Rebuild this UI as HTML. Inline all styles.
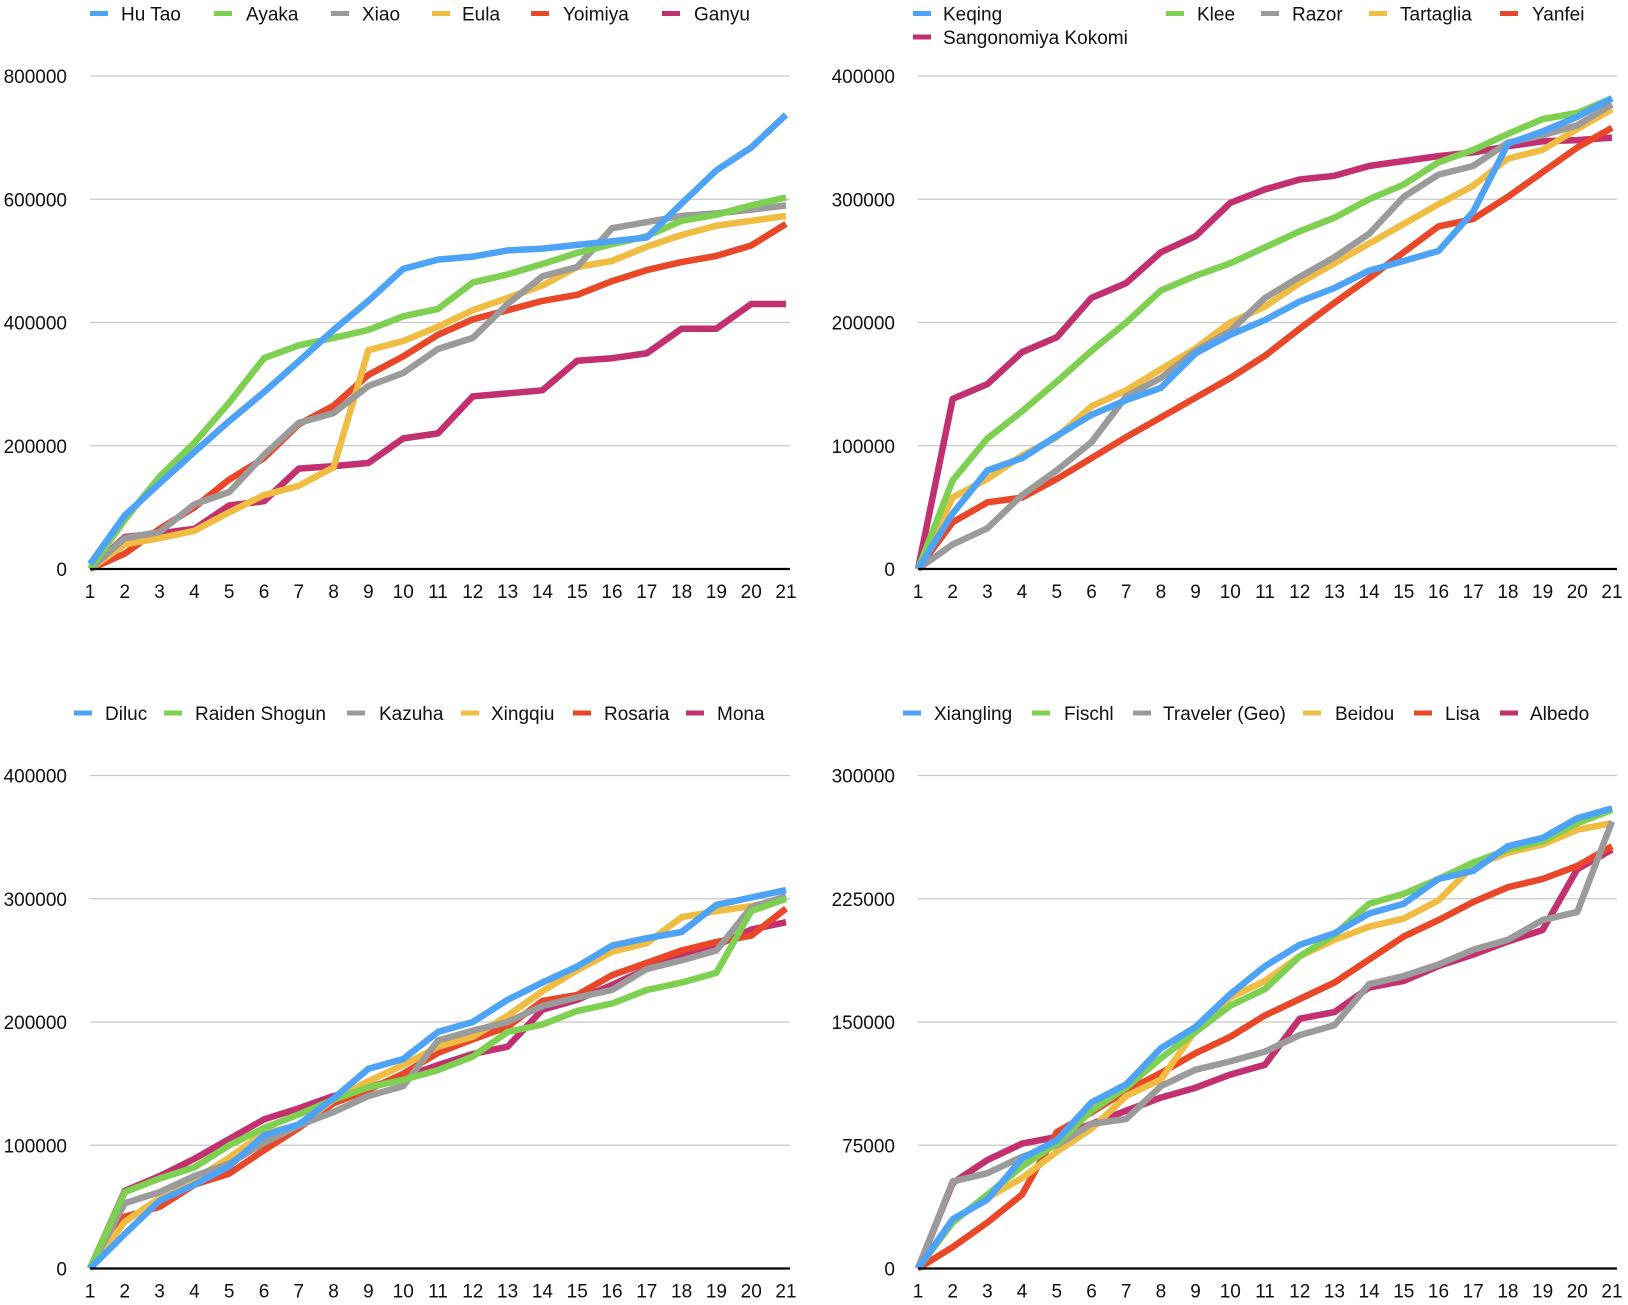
<!DOCTYPE html>
<html><head><meta charset="utf-8">
<style>
html,body{margin:0;padding:0;background:#fff;}
svg text{font-family:"Liberation Sans",Arial,sans-serif;font-size:19px;fill:#111;}
</style></head>
<body>
<svg id="root" width="1628" height="1300" viewBox="0 0 1628 1300" xmlns="http://www.w3.org/2000/svg"></svg>
<script>
const categories = [1,2,3,4,5,6,7,8,9,10,11,12,13,14,15,16,17,18,19,20,21];
const colors = ["#4DA3F7","#7ED050","#9B9B9B","#F0BC42","#EA4628","#C2306F"];

// Panel 1
const p1Names = ["Hu Tao","Ayaka","Xiao","Eula","Yoimiya","Ganyu"];
const p1Ticks = [0,200000,400000,600000,800000];
const p1HuTao = [8000,87000,139000,190000,240000,287000,337000,388000,435000,487000,502000,507000,517000,520000,526000,532000,538000,593000,647000,684000,737000];
const p1Ayaka = [0,80000,150000,205000,270000,342000,363000,375000,388000,410000,422000,465000,478000,495000,513000,527000,540000,565000,575000,590000,603000];
const p1Xiao = [0,50000,60000,105000,125000,185000,237000,253000,297000,318000,357000,375000,430000,475000,490000,553000,563000,573000,577000,583000,590000];
const p1Eula = [0,40000,50000,62000,92000,120000,135000,165000,355000,370000,393000,420000,440000,460000,490000,500000,523000,542000,557000,565000,573000];
const p1Yoimiya = [0,25000,65000,100000,145000,180000,235000,265000,315000,345000,380000,405000,420000,435000,445000,467000,485000,498000,508000,525000,560000];
const p1Ganyu = [0,52000,58000,65000,103000,110000,163000,167000,172000,212000,220000,280000,285000,290000,338000,342000,350000,390000,390000,430000,430000];

// Panel 2
const p2Names = ["Keqing","Klee","Razor","Tartaglia","Yanfei","Sangonomiya Kokomi"];
const p2Ticks = [0,100000,200000,300000,400000];
const p2Keqing = [0,45000,80000,90000,108000,125000,137000,147000,175000,190000,202000,217000,228000,242000,250000,258000,290000,345000,355000,367000,382000];
const p2Klee = [0,72000,106000,128000,152000,177000,200000,226000,238000,248000,261000,274000,285000,300000,312000,330000,340000,353000,365000,370000,382000];
const p2Razor = [0,20000,33000,60000,80000,103000,140000,155000,177000,193000,220000,237000,253000,272000,302000,320000,327000,346000,352000,360000,377000];
const p2Tartaglia = [0,58000,73000,92000,107000,132000,145000,162000,179000,200000,213000,232000,248000,264000,280000,296000,311000,333000,340000,357000,373000];
const p2Yanfei = [0,38000,54000,58000,73000,90000,107000,123000,139000,155000,173000,195000,216000,236000,257000,278000,284000,302000,322000,342000,358000];
const p2Kokomi = [0,138000,150000,176000,188000,220000,232000,257000,270000,297000,308000,316000,319000,327000,331000,335000,338000,343000,347000,348000,350000];

// Panel 3
const p3Names = ["Diluc","Raiden Shogun","Kazuha","Xingqiu","Rosaria","Mona"];
const p3Ticks = [0,100000,200000,300000,400000];
const p3Diluc = [0,28000,55000,68000,83000,108000,117000,138000,162000,170000,192000,200000,218000,232000,245000,262000,268000,273000,295000,301000,307000];
const p3Raiden = [0,62000,73000,82000,100000,114000,125000,137000,147000,153000,161000,172000,192000,198000,209000,215000,226000,232000,240000,290000,300000];
const p3Kazuha = [0,53000,62000,75000,85000,102000,116000,127000,140000,148000,185000,193000,200000,213000,220000,226000,243000,250000,258000,293000,302000];
const p3Xingqiu = [0,38000,57000,72000,90000,110000,116000,137000,152000,165000,180000,188000,205000,225000,242000,257000,264000,285000,290000,294000,300000];
const p3Rosaria = [0,42000,50000,68000,77000,96000,114000,134000,145000,158000,175000,186000,196000,217000,222000,238000,248000,258000,265000,270000,292000];
const p3Mona = [0,63000,75000,89000,105000,121000,130000,140000,147000,155000,165000,174000,180000,210000,218000,230000,243000,253000,262000,275000,281000];

// Panel 4
const p4Names = ["Xiangling","Fischl","Traveler (Geo)","Beidou","Lisa","Albedo"];
const p4Ticks = [0,75000,150000,225000,300000];
const p4Xiangling = [0,30000,42000,67000,78000,101000,112000,134000,147000,167000,184000,197000,204000,216000,222000,237000,242000,257000,262000,274000,280000];
const p4Fischl = [0,28000,45000,62000,76000,96000,110000,128000,144000,160000,170000,190000,203000,222000,228000,237000,247000,255000,260000,271000,279000];
const p4Traveler = [0,53000,58000,68000,75000,88000,91000,111000,121000,126000,132000,142000,148000,173000,178000,185000,194000,200000,212000,217000,272000];
const p4Beidou = [0,29000,43000,55000,71000,85000,105000,115000,145000,165000,175000,190000,200000,208000,213000,224000,245000,253000,258000,267000,271000];
const p4Lisa = [0,13000,28000,45000,83000,95000,108000,119000,131000,141000,154000,164000,174000,188000,202000,212000,223000,232000,237000,245000,257000];
const p4Albedo = [0,52000,66000,76000,80000,88000,96000,104000,110000,118000,124000,152000,156000,171000,175000,184000,191000,199000,206000,243000,255000];

const NS = "http://www.w3.org/2000/svg";
const root = document.getElementById("root");
function mk(tag, attrs, parent){ const e=document.createElementNS(NS,tag); for(const k in attrs) e.setAttribute(k,attrs[k]); parent.appendChild(e); return e; }

const panels = [
  {id:"chart-1", names:p1Names, ticks:p1Ticks, series:[p1HuTao,p1Ayaka,p1Xiao,p1Eula,p1Yoimiya,p1Ganyu],
   x0:90, x1:786, gx1:790, y0:569, y1:76, labelRight:67,
   legend:[[90,121,13.5],[214,246,13.5],[331,362,13.5],[432,462,13.5],[531,563,13.5],[662,694,13.5]]},
  {id:"chart-2", names:p2Names, ticks:p2Ticks, series:[p2Keqing,p2Klee,p2Razor,p2Tartaglia,p2Yanfei,p2Kokomi],
   x0:918, x1:1612, gx1:1617, y0:569, y1:76, labelRight:895,
   legend:[[913,943,13.5],[1166,1197,13.5],[1261,1292,13.5],[1369,1400,13.5],[1500,1532,13.5],[913,943,37]]},
  {id:"chart-3", names:p3Names, ticks:p3Ticks, series:[p3Diluc,p3Raiden,p3Kazuha,p3Xingqiu,p3Rosaria,p3Mona],
   x0:90, x1:786, gx1:790, y0:1268.5, y1:775.5, labelRight:67,
   legend:[[74,105,713],[164,195,713],[347,379,713],[461,491,713],[573,604,713],[686,717,713]]},
  {id:"chart-4", names:p4Names, ticks:p4Ticks, series:[p4Xiangling,p4Fischl,p4Traveler,p4Beidou,p4Lisa,p4Albedo],
   x0:918, x1:1612, gx1:1617, y0:1268.5, y1:775.5, labelRight:895,
   legend:[[903,934,713],[1032,1064,713],[1133,1163,713],[1303,1335,713],[1414,1445,713],[1500,1530,713]]}
];

panels.forEach(p=>{
  const g = mk("g",{},root);
  
  
  const maxV = p.ticks[p.ticks.length-1];
  const xs = i => p.x0 + (p.x1-p.x0)*(categories[i]-categories[0])/(categories[categories.length-1]-categories[0]);
  const ys = v => p.y0 - (p.y0-p.y1)*v/maxV;
  p.ticks.forEach(t=>{
    if(t>0){
      const l = mk("line",{x1:p.x0,x2:p.gx1,y1:ys(t),y2:ys(t),stroke:"#c8c8c8","stroke-width":1.2},g);
      
      
    }
    const tx = mk("text",{x:p.labelRight,y:ys(t)+7,"text-anchor":"end"},g);
    
    
    tx.textContent = String(t);
  });
  categories.forEach((c,i)=>{
    const tx = mk("text",{x:xs(i),y:p.y0+29,"text-anchor":"middle"},g);
    
    
    tx.textContent = String(c);
  });
  // draw in reverse so the first series sits on top
  for(let k=p.series.length-1;k>=0;k--){
    const s = p.series[k];
    const pts = s.map((v,i)=>xs(i).toFixed(1)+","+ys(v).toFixed(1)).join(" ");
    const pl = mk("polyline",{points:pts,fill:"none",stroke:colors[k],"stroke-width":6.5,"stroke-linejoin":"round","stroke-linecap":"butt"},g);
    
    
  }
  const ax = mk("line",{x1:p.x0,x2:p.gx1,y1:p.y0,y2:p.y0,stroke:"#000","stroke-width":2.2},g);
  
  
  p.names.forEach((n,k)=>{
    const [mx,tx0,ly] = p.legend[k];
    const lg = mk("g",{},g);
    
    
    mk("line",{x1:mx,x2:mx+18,y1:ly,y2:ly,stroke:colors[k],"stroke-width":5},lg);
    const t = mk("text",{x:tx0,y:ly+7},lg);
    t.textContent = n;
  });
});
</script>
</body></html>
